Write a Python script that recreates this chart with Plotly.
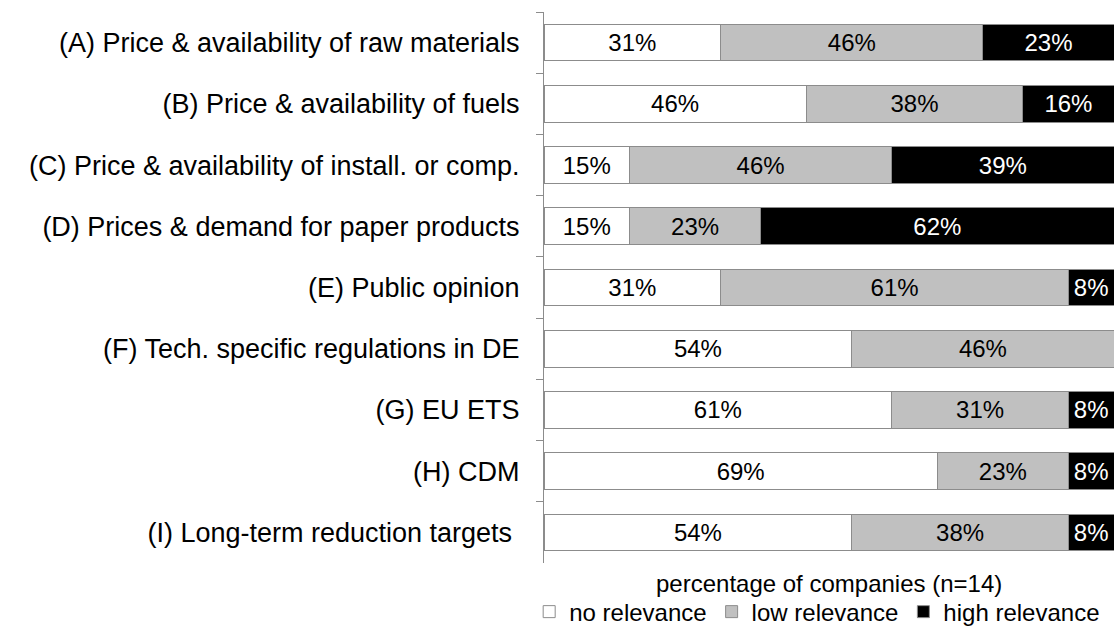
import plotly.graph_objects as go

categories = [
    "(A) Price & availability of raw materials",
    "(B) Price & availability of fuels",
    "(C) Price & availability of install. or comp.",
    "(D) Prices & demand for paper products",
    "(E) Public opinion",
    "(F) Tech. specific regulations in DE",
    "(G) EU ETS",
    "(H) CDM",
    "(I) Long-term reduction targets ",
]
no_relevance = [31, 46, 15, 15, 31, 54, 61, 69, 54]
low_relevance = [46, 38, 46, 23, 61, 46, 31, 23, 38]
high_relevance = [23, 16, 39, 62, 8, 0, 8, 8, 8]

series = [
    ("no relevance", no_relevance, "#ffffff", "#000000"),
    ("low relevance", low_relevance, "#c0c0c0", "#000000"),
    ("high relevance", high_relevance, "#000000", "#ffffff"),
]

FONT = "Liberation Sans, Arial"

fig = go.Figure()
for name, vals, color, tcolor in series:
    fig.add_trace(
        go.Bar(
            y=categories,
            x=vals,
            name=name,
            orientation="h",
            marker=dict(color=color, line=dict(color="#8c8c8c", width=1)),
            text=[f"{v}%" if v > 0 else "" for v in vals],
            textposition="inside",
            insidetextanchor="middle",
            textangle=0,
            constraintext="none",
            textfont=dict(color=tcolor, size=24, family=FONT),
            hoverinfo="skip",
        )
    )

fig.update_layout(
    barmode="stack",
    bargap=0.4,
    width=1118,
    height=632,
    margin=dict(l=544, r=4, t=12, b=69, autoexpand=False),
    plot_bgcolor="white",
    paper_bgcolor="white",
    font=dict(family=FONT, size=24, color="#000000"),
    xaxis=dict(
        range=[0, 100],
        showgrid=False,
        zeroline=False,
        showline=False,
        showticklabels=False,
        ticks="",
        fixedrange=True,
    ),
    yaxis=dict(
        autorange="reversed",
        showgrid=False,
        showline=True,
        linecolor="#8c8c8c",
        linewidth=1,
        ticks="outside",
        tickson="boundaries",
        ticklen=7,
        tickcolor="#8c8c8c",
        ticklabelstandoff=18,
        tickfont=dict(size=27),
    ),
    showlegend=True,
    legend=dict(
        orientation="h",
        x=-0.026,
        xanchor="left",
        y=-0.089,
        yanchor="middle",
        font=dict(size=24),
        traceorder="normal",
        itemwidth=30,
    ),
    annotations=[
        dict(
            text="percentage of companies (n=14)",
            xref="paper",
            yref="paper",
            x=0.5,
            y=-0.037,
            xanchor="center",
            yanchor="middle",
            showarrow=False,
            font=dict(size=24),
        )
    ],
)

fig.write_html(
    "out.html",
    config={"displayModeBar": False},
    post_script="document.body.style.margin='0';",
)
